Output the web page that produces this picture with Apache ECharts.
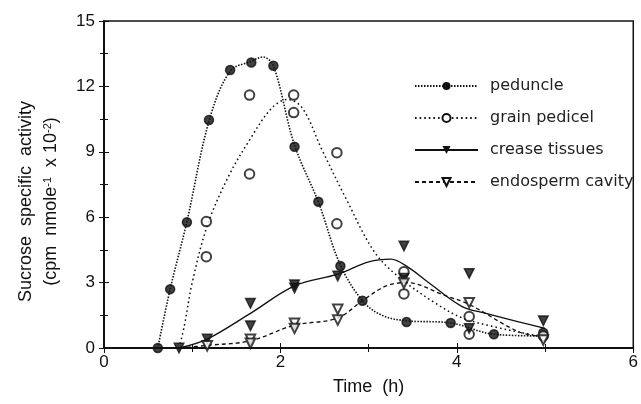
<!DOCTYPE html>
<html><head><meta charset="utf-8">
<script src="https://cdn.jsdelivr.net/npm/echarts@6/dist/echarts.min.js"></script>
<style>html,body{margin:0;padding:0;background:#fff}#c{width:641px;height:404px}</style>
</head><body><div id="c"></div>
<script>
// Measured points [time h, activity]
const seriesNames = ['peduncle', 'grain pedicel', 'crease tissues', 'endosperm cavity'];
const xTicks = [0, 2, 4, 6];
const yTicks = [0, 3, 6, 9, 12, 15];

const peduncle = [[0.61,0],[0.75,2.7],[0.94,5.77],[1.19,10.46],[1.43,12.75],[1.67,13.1],[1.92,12.95],[2.16,9.23],[2.43,6.71],[2.68,3.76],[2.93,2.17],[3.43,1.19],[3.93,1.15],[4.42,0.63],[4.98,0.7]];
const grainPedicel = [[1.16,5.8],[1.16,4.19],[1.65,11.6],[1.65,7.98],[2.15,11.6],[2.15,10.8],[2.64,8.96],[2.64,5.7],[3.40,3.5],[3.40,2.48],[4.14,1.44],[4.14,0.63],[4.98,0.55]];
const creaseTissues = [[0.85,0],[1.17,0.41],[1.66,2.05],[1.66,1.02],[2.16,2.9],[2.16,2.75],[2.65,3.3],[3.40,4.68],[3.40,3.2],[4.14,3.42],[4.14,0.9],[4.98,1.25]];
const endospermCavity = [[1.17,0.1],[1.66,0.4],[1.66,0.22],[2.16,1.13],[2.16,0.9],[2.65,1.78],[2.65,1.28],[3.40,2.97],[4.14,2.08],[4.98,0.37]];

// Fitted curves
const peduncleCurve = [[0.61,0],[0.75,2.7],[0.94,5.8],[1.19,10.4],[1.43,12.7],[1.67,13.15],[1.8,13.35],[1.92,12.95],[2.16,9.3],[2.43,6.7],[2.68,3.8],[2.93,2.17],[3.15,1.5],[3.43,1.25],[3.93,1.15],[4.42,0.63],[5.0,0.55]];
const grainCurve = [[0.85,0],[0.91,1.0],[1.0,3.0],[1.17,5.6],[1.41,7.86],[1.65,9.54],[1.9,11.0],[2.08,11.4],[2.25,11.0],[2.47,9.1],[2.75,6.8],[3.05,4.5],[3.3,3.4],[3.76,2.05],[4.13,1.28],[5.0,0.5]];
const creaseCurve = [[0.85,0],[1.17,0.41],[1.66,1.59],[2.16,2.85],[2.65,3.39],[3.0,3.95],[3.25,4.08],[3.45,3.7],[3.69,2.97],[4.06,1.9],[4.32,1.6],[4.7,1.2],[5.0,0.9]];
const endoCurve = [[0.86,0],[1.17,0.12],[1.66,0.33],[2.16,1.05],[2.64,1.36],[2.93,2.17],[3.2,2.85],[3.43,3.0],[3.87,2.4],[4.14,2.0],[4.7,0.75],[5.0,0.5]];

const K = '#111';
const chart = echarts.init(document.getElementById('c'), null, {renderer: 'canvas'});
const font = 'Liberation Sans, Arial, sans-serif';
function curve(name, data, symbol, rot, ltype, lw) {
  return {type: 'line', name, data, smooth: 0.35, showSymbol: false, symbol, symbolRotate: rot,
    symbolSize: 9, itemStyle: {color: K}, lineStyle: {color: K, width: lw, type: ltype},
    silent: true, z: 2, animation: false};
}
function pts(name, data, symbol, rot) {
  return {type: 'scatter', name, data, symbol, symbolRotate: rot, symbolSize: symbol === 'circle' ? 9 : 9.5,
    itemStyle: {color: K, borderWidth: 1.5, borderColor: K}, z: 3, animation: false};
}
const tickAxis = (pos, min, max, interval) => ({
  type: 'value', position: pos, min, max, interval,
  axisLine: {show: false}, axisLabel: {show: false}, splitLine: {show: false},
  axisTick: {inside: true, length: 5, lineStyle: {color: K}},
  minorTick: {show: true, splitNumber: 2, length: 4, lineStyle: {color: K}}
});
chart.setOption({
  animation: false,
  grid: {left: 104, right: 5, top: 21, bottom: 56, show: true, borderColor: K, borderWidth: 1.5},
  legend: {
    data: seriesNames, orient: 'vertical', left: 409, top: 73,
    itemWidth: 63, itemHeight: 10, itemGap: 16,
    textStyle: {fontFamily: 'DejaVu Sans', fontSize: 16, color: '#222', padding: [0,0,0,7]}
  },
  xAxis: [{
    type: 'value', min: 0, max: 6, interval: 2,
    name: 'Time  (h)', nameLocation: 'middle', nameGap: 30,
    nameTextStyle: {fontFamily: font, fontSize: 18, color: K},
    axisLine: {lineStyle: {color: K, width: 2}},
    axisTick: {inside: true, length: 5, lineStyle: {color: K}},
    minorTick: {show: true, splitNumber: 2, length: 4, lineStyle: {color: K}},
    splitLine: {show: false},
    axisLabel: {fontFamily: font, fontSize: 17, color: K, margin: 6, formatter: v => xTicks.includes(v) ? String(v) : ''}
  }, tickAxis('top', 0, 6, 2)],
  yAxis: [{
    type: 'value', min: 0, max: 15, interval: 3,
    name: '{a|Sucrose  specific  activity}\n{a|(cpm  nmole}{s|-1}{a|  x 10}{s|-2}{a|)}',
    nameLocation: 'middle', nameRotate: 90, nameGap: 40,
    nameTextStyle: {padding: [0, 34, 0, 0], rich: {
      a: {fontFamily: font, fontSize: 18, color: K, lineHeight: 25},
      s: {fontFamily: font, fontSize: 11, color: K, lineHeight: 25, padding: [0,0,8,0]}
    }},
    axisLine: {lineStyle: {color: K, width: 2}},
    axisTick: {inside: true, length: 5, lineStyle: {color: K}},
    minorTick: {show: true, splitNumber: 2, length: 4, lineStyle: {color: K}},
    splitLine: {show: false},
    axisLabel: {fontFamily: font, fontSize: 17, color: K, margin: 9, formatter: v => yTicks.includes(v) ? String(v) : ''}
  }, tickAxis('right', 0, 15, 3)],
  series: [
    curve('peduncle', peduncleCurve, 'circle', 0, [1.5, 1.5], 1.6),
    curve('grain pedicel', grainCurve, 'emptyCircle', 0, [1.6, 3], 1.5),
    curve('crease tissues', creaseCurve, 'triangle', 180, 'solid', 1.3),
    curve('endosperm cavity', endoCurve, 'emptyTriangle', 180, [4, 3], 1.3),
    pts('peduncle', peduncle, 'circle', 0),
    pts('grain pedicel', grainPedicel, 'emptyCircle', 0),
    pts('crease tissues', creaseTissues, 'triangle', 180),
    pts('endosperm cavity', endospermCavity, 'emptyTriangle', 180)
  ]
});
</script></body></html>
